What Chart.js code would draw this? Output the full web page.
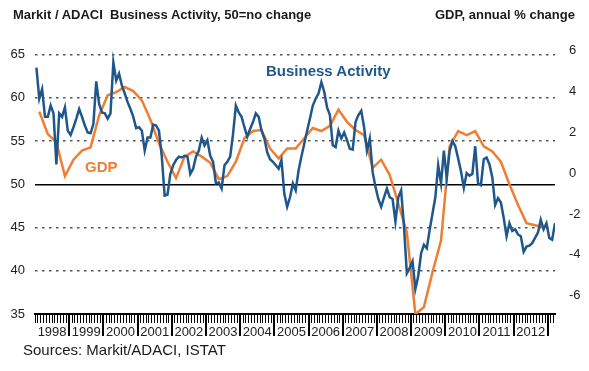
<!DOCTYPE html>
<html>
<head>
<meta charset="utf-8">
<script src="https://cdn.jsdelivr.net/npm/chart.js@4.4.0/dist/chart.umd.min.js"></script>
<style>
body { margin: 0; background: #fff; }
#obal { position: relative; width: 589px; height: 371px; font-family: "Liberation Sans", Arial, sans-serif; }
#obal canvas { position: absolute; left: 0; top: 0; }
.popis { position: absolute; white-space: pre; line-height: 16px; }
</style>
</head>
<body>
<div id="obal">
<canvas id="graf" width="589" height="371"></canvas>
<div class="popis" style="left:13px;top:7px;font-size:13px;font-weight:bold;color:#1a1a1a">Markit / ADACI  Business Activity, 50=no change</div>
<div class="popis" style="left:435px;top:7px;font-size:13px;font-weight:bold;color:#1a1a1a">GDP, annual % change</div>
<div class="popis" style="left:266px;top:63px;font-size:15px;font-weight:bold;color:#1f578c">Business Activity</div>
<div class="popis" style="left:85px;top:159px;font-size:15px;font-weight:bold;color:#f07d32">GDP</div>
<div class="popis" style="left:23px;top:342px;font-size:15px;color:#1a1a1a">Sources: Markit/ADACI, ISTAT</div>
</div>
<script>
// Data (měsíce od ledna 1998, HDP čtvrtletně)
const roky = ["1998", "1999", "2000", "2001", "2002", "2003", "2004", "2005", "2006", "2007", "2008", "2009", "2010", "2011", "2012"];
const leveTicky = [35, 40, 45, 50, 55, 60, 65];
const praveTicky = [-6, -4, -2, 0, 2, 4, 6];

// Business Activity, měsíčně leden 1998 - březen 2013
const aktivita = [
    63.5, 59.9, 61.0, 57.8, 57.8, 59.1, 58.2, 52.3, 58.2, 57.8, 58.9, 56.2,
    55.7, 56.6, 57.6, 58.7, 57.8, 56.8, 56.0, 55.9, 57.0, 61.9, 59.3, 58.3,
    58.2, 57.6, 58.2, 64.1, 62.0, 62.8, 61.4, 60.5, 59.5, 58.7, 57.8, 56.5,
    56.6, 56.2, 53.9, 55.4, 55.4, 56.9, 56.8, 56.2, 53.2, 48.7, 48.8, 51.2,
    52.2, 52.8, 53.2, 53.1, 53.3, 53.2, 51.2, 51.8, 53.2, 53.9, 55.4, 54.5,
    55.1, 53.3, 52.6, 50.1, 50.2, 49.5, 52.2, 52.6, 53.2, 55.8, 59.1, 58.3,
    57.8, 56.6, 55.5, 56.4, 57.2, 58.2, 57.8, 56.2, 55.3, 53.7, 52.9, 52.6,
    52.2, 51.8, 52.8, 48.9, 47.4, 48.5, 50.1, 49.3, 51.6, 53.2, 54.7, 56.2,
    57.6, 59.1, 59.9, 60.5, 61.8, 60.7, 58.9, 58.0, 54.5, 54.3, 56.2, 55.3,
    56.0, 55.1, 54.1, 54.0, 57.2, 58.0, 58.5, 56.6, 53.9, 55.3, 51.4, 49.7,
    48.3, 47.4, 48.5, 49.5, 48.5, 48.3, 45.7, 48.5, 49.3, 45.1, 39.7, 40.3,
    41.1, 37.9, 39.4, 42.0, 43.0, 42.6, 44.7, 46.6, 48.5, 52.2, 50.1, 53.9,
    50.7, 53.8, 55.0, 54.4, 53.0, 51.5, 49.6, 51.3, 51.0, 51.2, 54.4, 50.1,
    49.9, 52.9, 53.1, 52.3, 50.8, 47.6, 48.4, 47.9, 46.1, 44.0, 45.5, 44.6,
    44.8, 44.2, 44.0, 42.2, 42.8, 42.9, 43.2, 43.8, 44.4, 45.9, 44.8, 45.5,
    43.8, 43.6, 45.5
];

// HDP, meziroční změna v %, čtvrtletně 1998 Q1 - 2012 Q4
const hdp = [
    3.0, 1.9, 1.5, -0.15, 0.65, 1.1, 1.25, 2.8, 3.8, 3.95, 4.2, 4.0,
    3.55, 2.6, 1.45, 0.55, -0.25, 0.8, 1.05, 0.8, 0.5, -0.3, -0.15, 0.55,
    1.7, 2.05, 2.1, 1.2, 0.7, 1.2, 1.2, 1.7, 2.2, 2.05, 2.3, 3.1,
    2.5, 2.1, 1.85, 0.25, 0.65, -0.1, -1.5, -2.9, -6.9, -6.55, -4.85, -3.3,
    1.3, 2.05, 1.85, 2.05, 1.3, 1.05, 0.55, -0.55, -1.55, -2.45, -2.55, -2.65
];

window.addEventListener("DOMContentLoaded", function() {
    const barvaModra = "#1f578c";
    const barvaOranzova = "#f07d32";

    // měsíční dílky osy x (hranice měsíců)
    const mesicniTicky = [];
    for (let j = 0; j <= 182; j++) mesicniTicky.push(j - 0.5);

    // dlouhé dílky na hranicích roků
    const rocniDilky = {
        id: "rocniDilky",
        afterDraw: function(chart) {
            const sx = chart.scales.x;
            const ctx = chart.ctx;
            ctx.save();
            ctx.strokeStyle = "#000";
            ctx.lineWidth = 2;
            for (let v = 11.5; v <= sx.max; v += 12) {
                const px = Math.round(sx.getPixelForValue(v));
                ctx.beginPath();
                ctx.moveTo(px, sx.top);
                ctx.lineTo(px, sx.top + 22);
                ctx.stroke();
            }
            ctx.restore();
        }
    };

    const ctx = document.getElementById("graf").getContext("2d");
    new Chart(ctx, {
        type: "line",
        data: {
            datasets: [
                {
                    label: "Business Activity",
                    data: aktivita.map(function(v, i) { return { x: i, y: v }; }),
                    yAxisID: "y",
                    borderColor: barvaModra,
                    borderWidth: 2.5,
                    pointRadius: 0,
                    tension: 0
                },
                {
                    label: "GDP",
                    data: hdp.map(function(v, q) { return { x: 3 * q + 1, y: v }; }),
                    yAxisID: "y1",
                    borderColor: barvaOranzova,
                    borderWidth: 2.5,
                    pointRadius: 0,
                    tension: 0
                }
            ]
        },
        options: {
            responsive: false,
            animation: false,
            devicePixelRatio: 1,
            layout: { padding: { top: 50, left: 0, right: 0, bottom: 0 } },
            plugins: { legend: { display: false }, tooltip: { enabled: false } },
            scales: {
                x: {
                    type: "linear",
                    min: -0.5,
                    max: 182,
                    afterBuildTicks: function(s) { s.ticks = mesicniTicky.map(function(v) { return { value: v }; }); },
                    afterFit: function(s) { s.height = 57; },
                    ticks: {
                        autoSkip: false,
                        maxRotation: 0,
                        minRotation: 0,
                        padding: 2,
                        color: "#222",
                        font: { size: 13, family: "'Liberation Sans', Arial, sans-serif" },
                        callback: function(value) {
                            const j = Math.round(value + 0.5);
                            if (j % 12 === 6) return roky[(j - 6) / 12] || "";
                            return "";
                        }
                    },
                    grid: { drawOnChartArea: false, drawTicks: true, tickLength: 9, tickColor: "#000", tickWidth: 1 },
                    border: { display: true, color: "#000", width: 2 }
                },
                y: {
                    position: "left",
                    min: 35,
                    max: 65.53,
                    afterBuildTicks: function(s) { s.ticks = leveTicky.map(function(v) { return { value: v }; }); },
                    afterFit: function(s) { s.width = 35; },
                    ticks: { padding: 10, color: "#222", font: { size: 13, family: "'Liberation Sans', Arial, sans-serif" } },
                    grid: {
                        drawTicks: false,
                        color: function(c) {
                            if (!c.tick) return "#555";
                            if (c.tick.value === 35) return "rgba(0,0,0,0)";
                            return c.tick.value === 50 ? "#000" : "#555";
                        },
                        lineWidth: 1.5
                    },
                    border: {
                        display: false,
                        dash: function(c) { return (c.tick && c.tick.value === 50) ? [] : [2.5, 4.5]; }
                    }
                },
                y1: {
                    position: "right",
                    min: -6.89,
                    max: 6.01,
                    afterBuildTicks: function(s) { s.ticks = praveTicky.map(function(v) { return { value: v }; }); },
                    afterFit: function(s) { s.width = 34; },
                    ticks: { padding: 6, color: "#222", font: { size: 13, family: "'Liberation Sans', Arial, sans-serif" } },
                    grid: { display: false },
                    border: { display: false }
                }
            }
        },
        plugins: [rocniDilky]
    });
});
</script>
</body>
</html>
